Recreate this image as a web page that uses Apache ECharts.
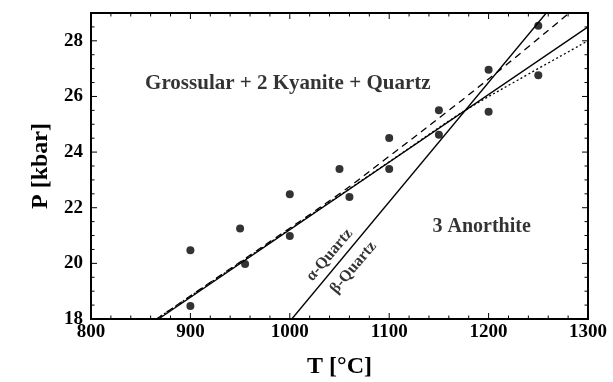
<!DOCTYPE html>
<html><head><meta charset="utf-8">
<script src="https://cdn.jsdelivr.net/npm/echarts@6/dist/echarts.min.js"></script>
<style>html,body{margin:0;padding:0;background:#fff}#c{width:613px;height:382px}</style>
</head><body><div id="c"></div><script>
// Experimental brackets (T in °C, P in kbar)
const expT = [900, 900, 950, 955, 1000, 1000, 1050, 1060, 1100, 1100, 1150, 1150, 1200, 1200, 1250, 1250];
const expP = [20.47, 18.47, 21.25, 19.98, 22.48, 20.98, 23.39, 22.39, 24.51, 23.39, 25.5, 24.62, 26.96, 25.45, 28.54, 26.76];
// Reaction curves
const alphaT = [868, 1300];
const alphaP = [18, 28.5];
const betaT = [1002, 1258];
const betaP = [18, 29];
const dashT = [866, 950, 1050, 1100, 1160, 1220, 1281];
const dashP = [18, 20.05, 22.5, 23.85, 25.5, 27.2, 29];
const dotT = [866, 1000, 1100, 1173, 1230, 1300];
const dotP = [18, 21.23, 23.65, 25.42, 26.6, 28.0];
// Axis ticks
const xMajorTicks = [800, 900, 1000, 1100, 1200, 1300];
const yMajorTicks = [18, 20, 22, 24, 26, 28];
const xMinorStep = 20;
const yMinorStep = 0.5;
// Annotations
const noteText = ['Grossular + 2 Kyanite + Quartz', '3 Anorthite', 'α-Quartz', 'β-Quartz'];
const noteT = [998, 1193, 1040, 1064];
const noteP = [26.45, 21.3, 20.3, 19.85];
const noteRot = [0, 0, 50, 50];
const noteSize = [21, 20, 16, 16];

const FONT = '"Liberation Serif", "Times New Roman", serif';
const zip = (a, b) => a.map((v, i) => [v, b[i]]);
const ink = '#000';
const X0 = xMajorTicks[0], X1 = xMajorTicks[xMajorTicks.length - 1];
const Y0 = 18, Y1 = 29;

// tick marks (kind 0 = T axis, 1 = P axis), drawn on all four sides
const tickData = [];
xMajorTicks.forEach(v => tickData.push([0, v, 6]));
for (let v = X0 + xMinorStep; v < X1; v += xMinorStep) if (v % 100) tickData.push([0, v, 3.5]);
yMajorTicks.forEach(v => tickData.push([1, v, 6]));
for (let v = Y0 + yMinorStep; v < Y1; v += yMinorStep) if (v % 2) tickData.push([1, v, 3.5]);

function curve(t, p, type, smooth) {
  return {
    type: 'line', data: zip(t, p), showSymbol: false, symbol: 'none', smooth: smooth ? 0.35 : false,
    lineStyle: { color: ink, width: 1.3, type: type }, silent: true, z: 3
  };
}

const chart = echarts.init(document.getElementById('c'), null, { renderer: 'canvas' });
chart.setOption({
  backgroundColor: '#fff',
  animation: false,
  grid: { left: 91, right: 25, top: 13, bottom: 63, show: true, borderColor: ink, borderWidth: 2,
          backgroundColor: 'transparent', containLabel: false, outerBoundsMode: 'none' },
  xAxis: {
    type: 'value', min: X0, max: X1, interval: 100,
    axisLine: { show: false }, axisTick: { show: false }, splitLine: { show: false },
    axisLabel: { color: ink, fontFamily: FONT, fontWeight: 'bold', fontSize: 19, margin: 4, formatter: v => String(v) },
    name: 'T [°C]', nameLocation: 'middle', nameGap: 36,
    nameTextStyle: { color: ink, fontFamily: FONT, fontWeight: 'bold', fontSize: 24 }
  },
  yAxis: {
    type: 'value', min: Y0, max: Y1, interval: 2,
    axisLine: { show: false }, axisTick: { show: false }, splitLine: { show: false },
    axisLabel: { color: ink, fontFamily: FONT, fontWeight: 'bold', fontSize: 19, margin: 8, showMaxLabel: false, formatter: v => String(v) },
    name: 'P [kbar]', nameLocation: 'middle', nameGap: 38,
    nameTextStyle: { color: ink, fontFamily: FONT, fontWeight: 'bold', fontSize: 24 }
  },
  series: [
    {
      type: 'custom', data: tickData, silent: true, clip: false, z: 2,
      encode: { x: 1, y: 1 },
      renderItem: function (params, api) {
        const kind = api.value(0), v = api.value(1), len = api.value(2);
        const st = { stroke: ink, lineWidth: 1 };
        if (kind === 0) {
          const b = api.coord([v, Y0]), t = api.coord([v, Y1]);
          return { type: 'group', children: [
            { type: 'line', shape: { x1: b[0], y1: b[1], x2: b[0], y2: b[1] - len }, style: st },
            { type: 'line', shape: { x1: t[0], y1: t[1], x2: t[0], y2: t[1] + len }, style: st }
          ] };
        }
        const l = api.coord([X0, v]), r = api.coord([X1, v]);
        return { type: 'group', children: [
          { type: 'line', shape: { x1: l[0], y1: l[1], x2: l[0] + len, y2: l[1] }, style: st },
          { type: 'line', shape: { x1: r[0], y1: r[1], x2: r[0] - len, y2: r[1] }, style: st }
        ] };
      }
    },
    curve(alphaT, alphaP, 'solid', false),
    curve(betaT, betaP, 'solid', false),
    curve(dashT, dashP, [7, 5], true),
    curve(dotT, dotP, [2, 2.5], true),
    {
      type: 'scatter', data: zip(expT, expP), symbol: 'circle', symbolSize: 8,
      itemStyle: { color: ink }, silent: true, z: 4
    },
    {
      type: 'scatter', symbolSize: 0, silent: true, z: 5,
      data: noteText.map((s, i) => ({
        value: [noteT[i], noteP[i]],
        label: {
          show: true, position: 'inside', formatter: s, rotate: noteRot[i],
          color: ink, fontFamily: FONT, fontWeight: 'bold', fontSize: noteSize[i]
        }
      }))
    }
  ]
});
</script></body></html>
